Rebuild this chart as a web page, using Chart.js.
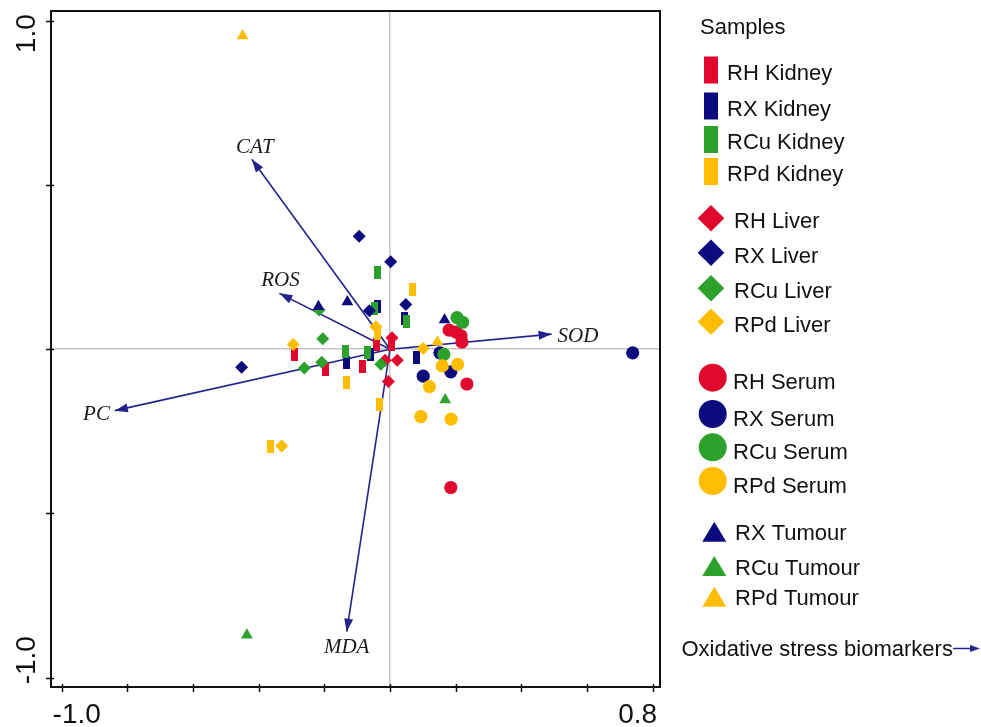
<!DOCTYPE html>
<html>
<head>
<meta charset="utf-8">
<script src="https://cdn.jsdelivr.net/npm/chart.js@4.4.1/dist/chart.umd.min.js"></script>
<style>
  html, body { margin: 0; padding: 0; background: #fff; }
  #wrap { width: 981px; height: 727px; }
</style>
</head>
<body>
<div id="wrap"><canvas id="pcaChart" width="981" height="727"></canvas></div>
<script>
// sample scores [axis 1, axis 2]
const rhKidney  = [[-0.291, -0.015], [-0.198, -0.062], [-0.083, -0.054], [-0.040, 0.015], [0.005, 0.014]];
const rxKidney  = [[-0.134, -0.039], [-0.061, -0.017], [-0.039, 0.131], [0.043, 0.093], [0.082, -0.025]];
const rcuKidney = [[-0.137, -0.008], [-0.069, -0.009], [-0.048, 0.124], [-0.037, 0.232], [0.049, 0.083]];
const rpdKidney = [[-0.365, -0.295], [-0.134, -0.101], [-0.033, -0.168], [-0.039, 0.047], [0.069, 0.181]];

const rhLiver  = [[0.006, 0.035], [-0.015, -0.034], [0.022, -0.034], [-0.005, -0.098]];
const rxLiver  = [[-0.452, -0.055], [-0.094, 0.344], [0.002, 0.266], [-0.063, 0.117], [0.048, 0.136]];
const rcuLiver = [[-0.261, -0.057], [-0.208, -0.040], [-0.205, 0.032], [-0.028, -0.046], [-0.216, 0.119]];
const rpdLiver = [[-0.295, 0.014], [-0.330, -0.295], [-0.043, 0.068], [0.101, 0.002]];

const rhSerum  = [[0.180, 0.058], [0.201, 0.052], [0.216, 0.041], [0.219, 0.022], [0.234, -0.106], [0.185, -0.421]];
const rxSerum  = [[0.152, -0.011], [0.185, -0.069], [0.101, -0.082], [0.739, -0.011]];
const rcuSerum = [[0.164, -0.016], [0.204, 0.096], [0.221, 0.082]];
const rpdSerum = [[0.159, -0.051], [0.206, -0.046], [0.120, -0.114], [0.094, -0.205], [0.186, -0.213]];

const rxTumour  = [[-0.218, 0.130], [-0.130, 0.144], [0.166, 0.089]];
const rcuTumour = [[-0.436, -0.870], [0.168, -0.154]];
const rpdTumour = [[-0.449, 0.954], [0.144, 0.022]];

// biomarker loadings (arrow tips)
const markerNames = ["CAT", "ROS", "SOD", "PC", "MDA"];
const markerX = [-0.421, -0.337, 0.492, -0.838, -0.132];
const markerY = [0.578, 0.170, 0.046, -0.187, -0.860];

const xTicks = [-1.0, -0.8, -0.6, -0.4, -0.2, 0, 0.2, 0.4, 0.6, 0.8];
const yTicks = [-1.0, -0.5, 0, 0.5, 1.0];
const xTickLabels = [-1.0, 0.8];
const yTickLabels = [1.0, -1.0];

const RED = "#e0082d", NAVY = "#0b0b7e", GREEN = "#2ca22c", YELLOW = "#ffbd00", ARROW = "#23238a";

function makeBar(color, w, h) {
    const c = document.createElement("canvas");
    c.width = w; c.height = h;
    const g = c.getContext("2d");
    g.fillStyle = color;
    g.fillRect(0, 0, w, h);
    return c;
}

const groups = [
    { label: "RH Kidney", color: RED, shape: "kidney", data: rhKidney },
    { label: "RX Kidney", color: NAVY, shape: "kidney", data: rxKidney },
    { label: "RCu Kidney", color: GREEN, shape: "kidney", data: rcuKidney },
    { label: "RPd Kidney", color: YELLOW, shape: "kidney", data: rpdKidney },
    { label: "RH Liver", color: RED, shape: "liver", data: rhLiver },
    { label: "RX Liver", color: NAVY, shape: "liver", data: rxLiver },
    { label: "RCu Liver", color: GREEN, shape: "liver", data: rcuLiver },
    { label: "RPd Liver", color: YELLOW, shape: "liver", data: rpdLiver },
    { label: "RH Serum", color: RED, shape: "serum", data: rhSerum },
    { label: "RX Serum", color: NAVY, shape: "serum", data: rxSerum },
    { label: "RCu Serum", color: GREEN, shape: "serum", data: rcuSerum },
    { label: "RPd Serum", color: YELLOW, shape: "serum", data: rpdSerum },
    { label: "RX Tumour", color: NAVY, shape: "tumour", data: rxTumour },
    { label: "RCu Tumour", color: GREEN, shape: "tumour", data: rcuTumour },
    { label: "RPd Tumour", color: YELLOW, shape: "tumour", data: rpdTumour }
];

const shapeStyle = {
    kidney: color => ({ pointStyle: makeBar(color, 7, 13), pointRadius: 6 }),
    liver: () => ({ pointStyle: "rectRot", pointRadius: 6.5 }),
    serum: () => ({ pointStyle: "circle", pointRadius: 6.6 }),
    tumour: () => ({ pointStyle: "triangle", pointRadius: 6.8 })
};

const datasets = groups.map((g, i) => Object.assign({
    label: g.label,
    shape: g.shape,
    data: g.data.map(p => ({ x: p[0], y: p[1] })),
    backgroundColor: g.color,
    borderWidth: 0,
    order: 100 - i
}, shapeStyle[g.shape](g.color)));

markerNames.forEach((name, i) => {
    datasets.push({
        label: name,
        isArrow: true,
        data: [{ x: 0, y: 0 }, { x: markerX[i], y: markerY[i] }],
        showLine: true,
        borderColor: ARROW,
        borderWidth: 1.6,
        pointRadius: 0,
        order: 200
    });
});

// label placement relative to arrow tip: [align, dx, dy(baseline)]
const arrowLabelPos = {
    CAT: ["center", 3, -6],
    ROS: ["center", 1, -7],
    SOD: ["left", 6, 7.5],
    PC: ["right", -5, 9.5],
    MDA: ["center", 0, 21.5]
};

const arrowPlugin = {
    id: "arrows",
    afterDatasetDraw(chart, args) {
        const ds = chart.data.datasets[args.index];
        if (!ds.isArrow) return;
        const pts = args.meta.data;
        const p0 = pts[0], p1 = pts[1];
        const ctx = chart.ctx;
        const a = Math.atan2(p1.y - p0.y, p1.x - p0.x);
        const len = 13, half = 4.5;
        ctx.save();
        ctx.fillStyle = ARROW;
        ctx.beginPath();
        ctx.moveTo(p1.x, p1.y);
        ctx.lineTo(p1.x - len * Math.cos(a) + half * Math.sin(a), p1.y - len * Math.sin(a) - half * Math.cos(a));
        ctx.lineTo(p1.x - len * Math.cos(a) - half * Math.sin(a), p1.y - len * Math.sin(a) + half * Math.cos(a));
        ctx.closePath();
        ctx.fill();
        const pos = arrowLabelPos[ds.label];
        ctx.font = "italic 21px 'Liberation Serif', 'Times New Roman', serif";
        ctx.fillStyle = "#1a1a1a";
        ctx.textAlign = pos[0];
        ctx.textBaseline = "alphabetic";
        ctx.fillText(ds.label, p1.x + pos[1], p1.y + pos[2]);
        ctx.restore();
    }
};

const legendRowY = [70, 106, 139.5, 171.5, 218.3, 252.7, 288.3, 321.7, 377.7, 414, 447.3, 481, 531.7, 566, 596.7];
const legendLayout = {
    kidney: { mx: 711, tx: 727, ty: 9.5 },
    liver: { mx: 711, tx: 734, ty: 10 },
    serum: { mx: 712.7, tx: 733, ty: 11.5 },
    tumour: { mx: 714.3, tx: 735, ty: 8.5 }
};

function legendMarker(ctx, shape, cx, cy, color) {
    ctx.fillStyle = color;
    ctx.beginPath();
    if (shape === "kidney") {
        ctx.rect(cx - 7, cy - 13.5, 14, 27);
    } else if (shape === "liver") {
        ctx.moveTo(cx, cy - 13.3);
        ctx.lineTo(cx + 13.3, cy);
        ctx.lineTo(cx, cy + 13.3);
        ctx.lineTo(cx - 13.3, cy);
        ctx.closePath();
    } else if (shape === "serum") {
        ctx.arc(cx, cy, 14, 0, Math.PI * 2);
    } else {
        ctx.moveTo(cx, cy - 10);
        ctx.lineTo(cx + 12, cy + 10);
        ctx.lineTo(cx - 12, cy + 10);
        ctx.closePath();
    }
    ctx.fill();
}

const framePlugin = {
    id: "frame",
    afterDraw(chart) {
        const ctx = chart.ctx;
        const area = chart.chartArea;
        const xs = chart.scales.x, ys = chart.scales.y;
        ctx.save();
        // plot box
        ctx.strokeStyle = "#111";
        ctx.lineWidth = 2;
        ctx.strokeRect(area.left, area.top, area.right - area.left, area.bottom - area.top);

        // tick marks crossing the axis lines
        ctx.lineWidth = 1.5;
        ctx.beginPath();
        xs.ticks.forEach(t => {
            const px = Math.round(xs.getPixelForValue(t.value)) + 0.5;
            ctx.moveTo(px, area.bottom - 3);
            ctx.lineTo(px, area.bottom + 5);
        });
        ys.ticks.forEach(t => {
            const py = Math.round(ys.getPixelForValue(t.value)) + 0.5;
            ctx.moveTo(area.left - 5, py);
            ctx.lineTo(area.left + 3, py);
        });
        ctx.stroke();

        // axis end labels
        ctx.fillStyle = "#111";
        ctx.font = "28px 'Liberation Sans', Arial, sans-serif";
        ctx.textBaseline = "alphabetic";
        ctx.textAlign = "center";
        xTickLabels.forEach(v => {
            const px = xs.getPixelForValue(v) + (v < 0 ? 15 : -15);
            ctx.fillText(v.toFixed(1), px, 723);
        });
        yTickLabels.forEach(v => {
            const py = ys.getPixelForValue(v) + (v > 0 ? 13 : -17.5);
            ctx.save();
            ctx.translate(35, py);
            ctx.rotate(-Math.PI / 2);
            ctx.fillText(v.toFixed(1), 0, 0);
            ctx.restore();
        });

        // legend
        ctx.font = "22px 'Liberation Sans', Arial, sans-serif";
        ctx.textAlign = "left";
        ctx.fillStyle = "#111";
        ctx.fillText("Samples", 700, 34);
        let row = 0;
        chart.data.datasets.forEach(ds => {
            if (ds.isArrow) return;
            const lay = legendLayout[ds.shape];
            const cy = legendRowY[row++];
            legendMarker(ctx, ds.shape, lay.mx, cy, ds.backgroundColor);
            ctx.fillStyle = "#111";
            ctx.fillText(ds.label, lay.tx, cy + lay.ty);
        });
        ctx.fillText("Oxidative stress biomarkers", 681.5, 656);
        ctx.strokeStyle = ARROW;
        ctx.lineWidth = 1.5;
        ctx.beginPath();
        ctx.moveTo(953, 648.5);
        ctx.lineTo(972, 648.5);
        ctx.stroke();
        ctx.fillStyle = ARROW;
        ctx.beginPath();
        ctx.moveTo(980, 648.5);
        ctx.lineTo(970, 645);
        ctx.lineTo(970, 652);
        ctx.closePath();
        ctx.fill();
        ctx.restore();
    }
};

const zeroGrid = c => (c.tick && c.tick.value === 0 ? "#c6c6c6" : "rgba(0,0,0,0)");

new Chart(document.getElementById("pcaChart").getContext("2d"), {
    type: "scatter",
    data: { datasets: datasets },
    options: {
        responsive: false,
        animation: false,
        events: [],
        layout: { padding: { left: 0, top: 11, right: 321, bottom: 0 } },
        plugins: { legend: { display: false }, tooltip: { enabled: false } },
        scales: {
            x: {
                type: "linear",
                min: -1.0326,
                max: 0.8222,
                afterBuildTicks: s => { s.ticks = xTicks.map(v => ({ value: v })); },
                afterFit: s => { s.height = 40; },
                ticks: { display: false },
                border: { display: false },
                grid: { color: zeroGrid, lineWidth: 1.5, drawTicks: false }
            },
            y: {
                type: "linear",
                min: -1.0283,
                max: 1.0295,
                afterBuildTicks: s => { s.ticks = yTicks.map(v => ({ value: v })); },
                afterFit: s => { s.width = 51; },
                ticks: { display: false },
                border: { display: false },
                grid: { color: zeroGrid, lineWidth: 1.5, drawTicks: false }
            }
        }
    },
    plugins: [arrowPlugin, framePlugin]
});
</script>
</body>
</html>
